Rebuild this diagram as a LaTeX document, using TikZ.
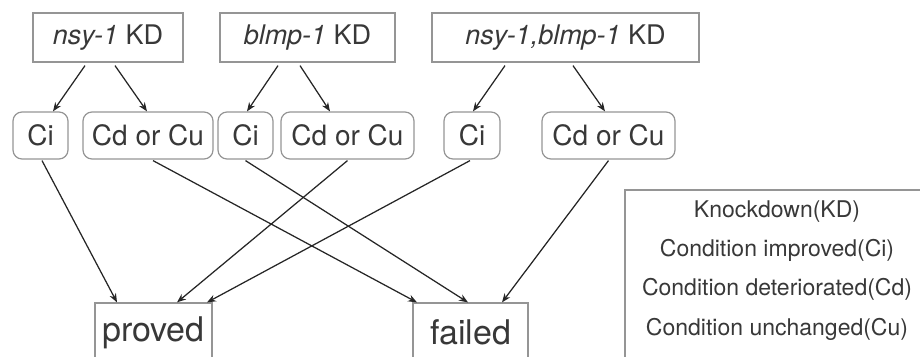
\documentclass[tikz,border=0pt]{standalone}
\usepackage{fontspec}
\setmainfont{TeX Gyre Heros}
\usetikzlibrary{arrows.meta}
\definecolor{txt}{HTML}{383838}
\definecolor{bord}{HTML}{959595}
\begin{document}
\begin{tikzpicture}[x=1pt,y=-1pt,
 kdbox/.style={draw=bord,line width=1.2pt,rectangle,inner sep=0pt,minimum height=49pt,text=txt,font=\fontsize{27}{30}\selectfont},
 cbox/.style={draw=bord,line width=1.2pt,rounded corners=9pt,inner sep=0pt,minimum height=47pt,text=txt,font=\fontsize{28}{32}\selectfont},
 resbox/.style={draw=bord,line width=1.2pt,inner sep=0pt,minimum height=59pt,text=txt,font=\fontsize{34}{38}\selectfont},
 legbox/.style={draw=bord,line width=1.2pt,inner sep=0pt},
 legtxt/.style={text=txt,font=\fontsize{23}{26}\selectfont,anchor=base,inner sep=0pt},
 arr/.style={-{Stealth[length=9pt,width=7pt]},line width=1.25pt,draw=black!85}]
\useasboundingbox (0,0) rectangle (920,356);
\clip (0,0) rectangle (920,356);
% top row
\node[kdbox,minimum width=150pt] (nsy) at (108,37.5) {\textit{nsy-1} KD};
\node[kdbox,minimum width=175pt] (blmp) at (307.5,37.5) {\textit{blmp-1} KD};
\node[kdbox,minimum width=267pt] (both) at (565.5,37.5) {\textit{nsy-1,blmp-1} KD};
% middle row
\node[cbox,minimum width=55pt] (ci1) at (40.5,135.5) {Ci};
\node[cbox,minimum width=130pt] (cd1) at (148,135.5) {Cd or Cu};
\node[cbox,minimum width=55pt] (ci2) at (245.5,135.5) {Ci};
\node[cbox,minimum width=133pt] (cd2) at (347.5,135.5) {Cd or Cu};
\node[cbox,minimum width=56pt] (ci3) at (472,135.5) {Ci};
\node[cbox,minimum width=133pt] (cd3) at (608.5,135.5) {Cd or Cu};
% bottom row
\node[resbox,minimum width=117pt] (proved) at (153.5,332.5) {proved};
\node[resbox,minimum width=115pt] (failed) at (470.5,332.5) {failed};
% legend
\node[legbox,minimum width=305pt,minimum height=180pt] (leg) at (777.5,280) {};
\node[legtxt] (l1) at (777,217) {Knockdown(KD)};
\node[legtxt] (l2) at (777,256) {Condition improved(Ci)};
\node[legtxt] (l3) at (777,295) {Condition deteriorated(Cd)};
\node[legtxt] (l4) at (777,335) {Condition unchanged(Cu)};
% arrows top -> middle
\draw[arr] ([xshift=-23pt,yshift=-3pt]nsy.south) -- ([xshift=12.5pt]ci1.north);
\draw[arr] ([xshift=7pt,yshift=-3pt]nsy.south) -- ([xshift=-1pt]cd1.north);
\draw[arr] ([xshift=-29.5pt,yshift=-3pt]blmp.south) -- ([xshift=1.5pt]ci2.north);
\draw[arr] ([xshift=-7.5pt,yshift=-3pt]blmp.south) -- ([xshift=-17.5pt]cd2.north);
\draw[arr] ([xshift=-60.5pt,yshift=-3pt]both.south) -- ([xshift=1pt]ci3.north);
\draw[arr] ([xshift=7.5pt,yshift=-3pt]both.south) -- ([xshift=-3.5pt]cd3.north);
% arrows middle -> bottom
\draw[arr] ([xshift=1.5pt,yshift=-1pt]ci1.south) -- ([xshift=-36.5pt]proved.north);
\draw[arr] ([xshift=5pt,yshift=-1pt]cd1.south) -- ([xshift=-53.5pt]failed.north);
\draw[arr] ([yshift=-1pt]ci2.south) -- ([xshift=-2.5pt]failed.north);
\draw[arr] ([yshift=-1pt]cd2.south) -- ([xshift=23.5pt]proved.north);
\draw[arr] ([xshift=-2pt,yshift=-1pt]ci3.south) -- ([xshift=53.5pt]proved.north);
\draw[arr] ([yshift=-1pt]cd3.south) -- ([xshift=31.5pt]failed.north);
\end{tikzpicture}
\end{document}
